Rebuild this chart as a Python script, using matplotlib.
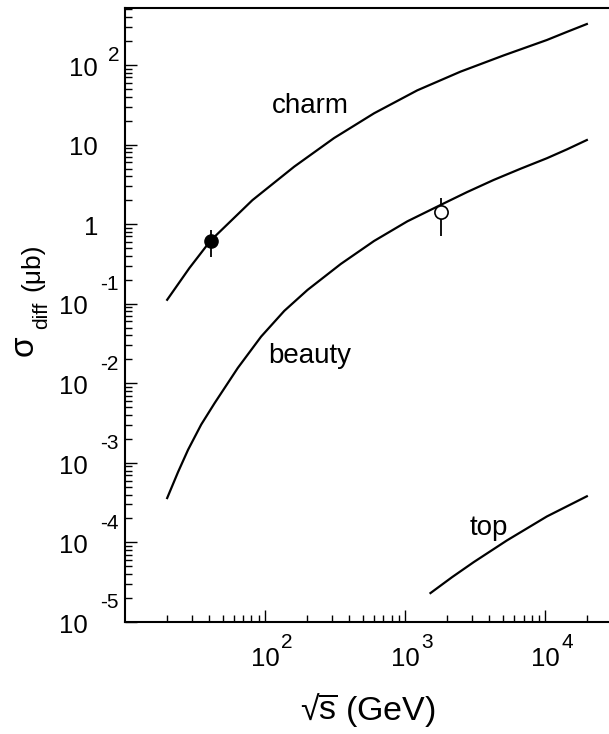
import numpy as np
import matplotlib
matplotlib.use('Agg')
import matplotlib.pyplot as plt

plt.rcParams['font.family'] = ['Liberation Sans', 'DejaVu Sans']
plt.rcParams['mathtext.fontset'] = 'custom'
plt.rcParams['mathtext.rm'] = 'Liberation Sans'
plt.rcParams['mathtext.it'] = 'Liberation Sans:italic'

# curves (sqrt(s) in GeV, sigma in microbarn)
charm_s = [20, 28.8, 40.8, 81.2, 161.6, 311, 600, 1221, 2483, 5058, 10280, 14260, 19830]
charm_sigma = [0.112, 0.28, 0.62, 2.00, 5.28, 12.07, 24.7, 48.0, 82.4, 132, 206, 260, 327]

beauty_s = [20, 23.9, 28.2, 35.0, 43.6, 63.9, 93.7, 137.2, 201, 347.5, 600, 1037,
            1790, 2772, 4285, 6637, 10280, 14260, 19830]
beauty_sigma = [3.61e-4, 7.64e-4, 1.46e-3, 3.03e-3, 5.62e-3, 0.0156, 0.0386, 0.0813,
                0.149, 0.316, 0.614, 1.084, 1.74, 2.53, 3.59, 4.95, 6.73, 8.68, 11.4]

top_s = [1517, 2168, 3090, 5333, 10280, 19830]
top_sigma = [2.31e-5, 3.67e-5, 5.66e-5, 1.06e-4, 2.12e-4, 3.8e-4]

# measurements
charm_pt_s = [40.8]
charm_pt_sigma = [0.62]
charm_pt_err = [[0.62 - 0.384], [0.845 - 0.62]]

beauty_pt_s = [1800]
beauty_pt_sigma = [1.41]
beauty_pt_err = [[1.41 - 0.711], [2.11 - 1.41]]

ytick_exp = [2, 1, 0, -1, -2, -3, -4, -5]
xtick_exp = [2, 3, 4]

fig = plt.figure(figsize=(6.09, 7.34), dpi=100)
ax = fig.add_axes([125/609, 112/734, 1 - 125/609, (622 - 8)/734])
ax.set_xscale('log')
ax.set_yscale('log')
ax.set_xlim(10, 10**(2 + 345/140.5))
ax.set_ylim(1e-5, 520)

lw = 1.6
ax.plot(charm_s, charm_sigma, color='k', lw=lw)
ax.plot(beauty_s, beauty_sigma, color='k', lw=lw)
ax.plot(top_s, top_sigma, color='k', lw=lw)

ax.errorbar(charm_pt_s, charm_pt_sigma, yerr=charm_pt_err, fmt='o', color='k',
            ms=9.5, elinewidth=1.3, capsize=0, zorder=5)
ax.errorbar(beauty_pt_s, beauty_pt_sigma, yerr=beauty_pt_err, fmt='o', color='k',
            mfc='white', mec='k', mew=1.2, ms=9.5, elinewidth=1.3, capsize=0, zorder=5)

ax.text(209, 24.9, 'charm', fontsize=20, ha='center', va='baseline')
ax.text(209, 0.018, 'beauty', fontsize=20, ha='center', va='baseline')
ax.text(3990, 1.24e-4, 'top', fontsize=20, ha='center', va='baseline')

# spines and ticks
ax.spines['right'].set_visible(False)
for s in ['left', 'top', 'bottom']:
    ax.spines[s].set_linewidth(1.5)
ax.tick_params(which='both', direction='in', top=False, right=False,
               labelleft=False, labelbottom=False, width=1.0)
ax.tick_params(which='major', length=8.6)
ax.tick_params(which='minor', length=5)
ax.set_yticks([10.0**e for e in ytick_exp])
ax.set_xticks([10.0**e for e in xtick_exp])

base_fs = 18.5
exp_fs = 15
px = 0.72  # points per pixel at 100 dpi
ytr = ax.get_yaxis_transform()
for e in ytick_exp:
    v = 10.0**e
    base = '1' if e == 0 else '10'
    dx = -37 if e < 0 else -27
    ax.annotate(base, xy=(0, v), xycoords=ytr, xytext=(dx*px, -10.7*px),
                textcoords='offset points', ha='right', va='baseline', fontsize=base_fs)
    if e < 0:
        ax.annotate(str(e), xy=(0, v), xycoords=ytr, xytext=(-25*px, 13.5*px),
                    textcoords='offset points', ha='left', va='baseline', fontsize=exp_fs)
    elif e > 1:
        ax.annotate(str(e), xy=(0, v), xycoords=ytr, xytext=(-17*px, 4*px),
                    textcoords='offset points', ha='left', va='baseline', fontsize=exp_fs)

xtr = ax.get_xaxis_transform()
for e in xtick_exp:
    v = 10.0**e
    ax.annotate('10', xy=(v, 0), xycoords=xtr, xytext=(0, -44.2*px),
                textcoords='offset points', ha='center', va='baseline', fontsize=base_fs)
    ax.annotate(str(e), xy=(v, 0), xycoords=xtr, xytext=(16*px, -25.5*px),
                textcoords='offset points', ha='left', va='baseline', fontsize=exp_fs)

# axis titles
fig.text(368/609, 1 - 720/734, '\u221a' + r'$\overline{\mathrm{s}}$' + ' (GeV)',
         fontsize=24.5, ha='center', va='baseline')
fig.text(33/609, 1 - 356/734, '\u03c3', fontsize=24, rotation=90,
         rotation_mode='anchor', ha='left', va='baseline')
fig.text(47/609, 1 - 329/734, 'diff', fontsize=15, rotation=90,
         rotation_mode='anchor', ha='left', va='baseline')
fig.text(39/609, 1 - 291/734, '(\u03bcb)', fontsize=19, rotation=90,
         rotation_mode='anchor', ha='left', va='baseline')

fig.savefig('out.png', dpi=100)
